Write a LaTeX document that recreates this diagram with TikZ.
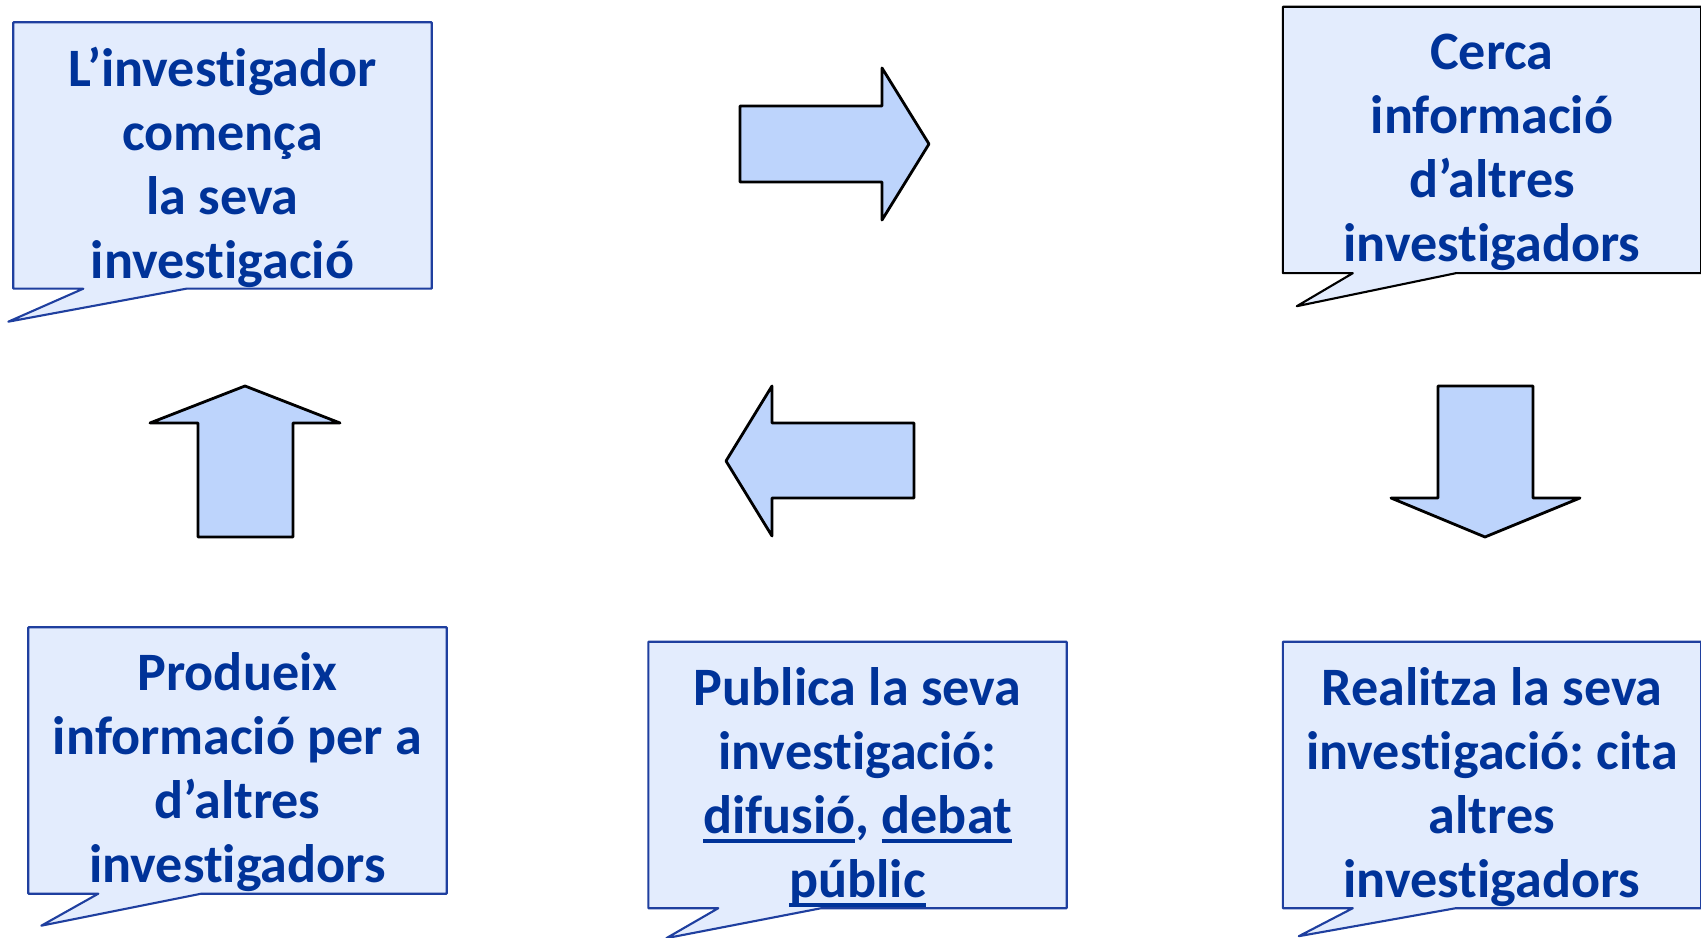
\documentclass[tikz,border=0pt]{standalone}
\usepackage{fontspec}
\setmainfont{Carlito}[Ligatures=NoCommon]
\usepackage{tikz}
\usetikzlibrary{positioning}

\definecolor{txtblue}{HTML}{003399}
\definecolor{boxfill}{HTML}{E3ECFD}
\definecolor{boxline}{HTML}{1F3F9F}
\definecolor{arrowfill}{HTML}{BDD4FC}

\pgfdeclarelayer{background}
\pgfsetlayers{background,main}
\frenchspacing

% underlined word, rule at a fixed depth
\newcommand{\ulword}[1]{\setbox0\hbox{#1}\rlap{\rule[-2.8pt]{\wd0}{1.1pt}}\box0}

% outline of a speech bubble: node, tip offset from its south west corner, line colour
\newcommand{\drawbubble}[4]{%
  \begin{pgfonlayer}{background}
  \draw[bubbleline, draw=#4] (#1.north west) -- (#1.north east) -- (#1.south east)
    -- ([xshift=17.3mm]#1.south west) -- ([shift={(#2,#3)}]#1.south west)
    -- ([xshift=7mm]#1.south west) -- (#1.south west) -- cycle;
  \end{pgfonlayer}}

\begin{document}
\begin{tikzpicture}[x=0.1mm, y=-0.1mm,
    bubble/.style={minimum width=41.7mm, minimum height=26.5mm, inner sep=0pt},
    bubbletext/.style={yshift=-1.2mm, inner sep=0pt, align=center, text=txtblue,
      font=\bfseries\fontsize{15.4}{18.2}\selectfont},
    bubbleline/.style={line width=0.6pt, fill=boxfill, line join=round},
    blockarrow/.style={draw=black, line width=0.8pt, fill=arrowfill, line join=round}]

\useasboundingbox (0,0) rectangle (1701,938);

% --- Speech bubbles ---
\node[bubble] (start) at (222.5,155.5) {};
\node[bubble] (search) at (1492,140) {};
\node[bubble] (cite) at (1492,775) {};
\node[bubble] (publish) at (857.5,775) {};
\node[bubble] (produce) at (237.5,760.5) {};

\drawbubble{start}{-5}{33}{boxline}
\drawbubble{search}{14}{33}{black}
\drawbubble{cite}{16}{28}{boxline}
\drawbubble{publish}{18}{30}{boxline}
\drawbubble{produce}{13}{32}{boxline}

% texts of the bubbles
\node[bubbletext] (start-t) at (start) {L’investigador\\ comença\\ la seva\\ investigació};
\node[bubbletext] (search-t) at (search) {Cerca\\ informació\\ d’altres\\ investigadors};
\node[bubbletext] (cite-t) at (cite) {Realitza la seva\\ investigació: cita\\ altres\\ investigadors};
\node[bubbletext] (publish-t) at (publish) {Publica la seva\\ investigació:\\ \ulword{difusió}, \ulword{debat}\\ \ulword{públic}};
\node[bubbletext] (produce-t) at (produce) {Produeix\\ informació per a\\ d’altres\\ investigadors};

% --- Block arrows ---
% start -> search
\draw[blockarrow] (740,106) -- (882,106) -- (882,68) -- (929,144) -- (882,220) -- (882,182) -- (740,182) -- cycle;
% search -> cite
\draw[blockarrow] (1438,386) -- (1533,386) -- (1533,498) -- (1580,498) -- (1485,537) -- (1391,498) -- (1438,498) -- cycle;
% cite -> publish
\draw[blockarrow] (914,423) -- (772,423) -- (772,386) -- (726,461) -- (772,536) -- (772,498) -- (914,498) -- cycle;
% produce -> start
\draw[blockarrow] (198,537) -- (198,423) -- (150,423) -- (245,386) -- (340,423) -- (293,423) -- (293,537) -- cycle;

\end{tikzpicture}
\end{document}
